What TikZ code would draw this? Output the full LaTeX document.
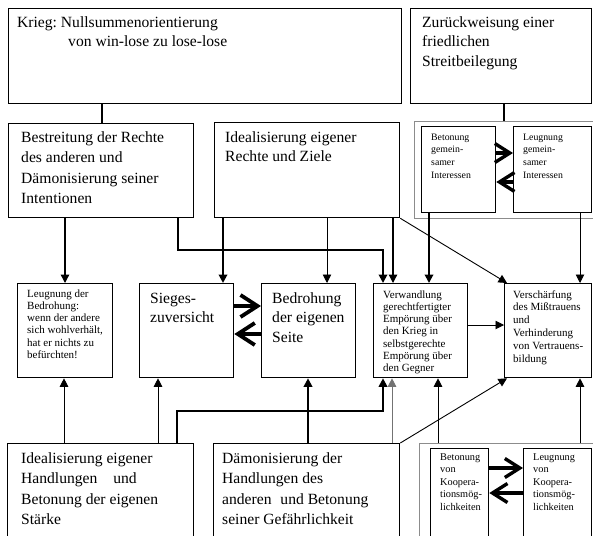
\documentclass[tikz,border=0pt]{standalone}
\usepackage{fontspec}
\setmainfont{Liberation Serif}
\usetikzlibrary{arrows.meta,calc}
\frenchspacing

% type sizes
\newcommand\lgfont{\fontsize{15.6}{20.5}\selectfont}
\newcommand\lgtight{\fontsize{15.6}{19}\selectfont}
\newcommand\smfont{\fontsize{11}{12.3}\selectfont}
\newcommand\tnfont{\fontsize{9.8}{12.7}\selectfont}
\newcommand\kofont{\fontsize{10.3}{12.5}\selectfont}

\tikzset{
  box/.style={draw, line width=1.3pt, anchor=north west, inner sep=0pt, fill=white},
  grp/.style={draw=black!45, line width=0.7pt, anchor=north west, inner sep=0pt},
  lbl/.style={anchor=base west, inner sep=0pt},
  tip/.style={-{Triangle[length=8.5pt,width=8.5pt]}},
  wire/.style={line width=0.9pt},
  mid/.style={line width=1.3pt},
  heavy/.style={line width=1.9pt},
  fat/.style={line width=3.8pt, -{Straight Barb[length=17pt,width=22pt]}},
  fatsm/.style={line width=3.4pt, -{Straight Barb[length=15pt,width=19pt]}},
}

\begin{document}
\begin{tikzpicture}[x=1pt,y=-1pt]
\useasboundingbox (0,0) rectangle (593,535);
\fill[white] (0,0) rectangle (593,535);
\clip (0,0) rectangle (593,535);

% ---- top row
\node[box, minimum width=393, minimum height=95] (krieg) at (8,8) {};
\node[box, minimum width=181, minimum height=95] (zur) at (410,8) {};

% ---- second row
\node[box, minimum width=185, minimum height=94] (bestr) at (8,123) {};
\node[box, minimum width=185, minimum height=95] (idealR) at (214,122) {};
\node[grp, minimum width=190, minimum height=97] (grpT) at (414,121) {};
\node[box, minimum width=74, minimum height=86] (betG) at (421,126) {};
\node[box, minimum width=78, minimum height=86] (leuG) at (513,126) {};

% ---- middle row
\node[box, minimum width=95, minimum height=94] (leugB) at (17,283) {};
\node[box, minimum width=94, minimum height=94] (sieg) at (139,283) {};
\node[box, minimum width=94, minimum height=94] (bedr) at (261,283) {};
\node[box, minimum width=94, minimum height=94] (verw) at (373,283) {};
\node[box, minimum width=87, minimum height=94] (versch) at (504,283) {};

% ---- bottom row
\node[box, minimum width=186, minimum height=120] (idealH) at (7,443) {};
\node[box, minimum width=186, minimum height=120] (daemon) at (213,443) {};
\node[grp, minimum width=190, minimum height=120] (grpB) at (419,443) {};
\node[box, minimum width=58, minimum height=120] (betK) at (430,448) {};
\node[box, minimum width=68, minimum height=120] (leuK) at (523,448) {};

% ---- texts
\node[lbl] (tkrieg) at ($(krieg.north west)+(9,20)$)
  {\parbox[t]{300pt}{\raggedright\lgtight Krieg: Nullsummenorientierung\\\hspace*{51pt}von win-lose zu lose-lose}};
\node[lbl] (tzur) at ($(zur.north west)+(12,20)$)
  {\parbox[t]{170pt}{\raggedright\lgtight Zurückweisung einer\\friedlichen\\Streitbeilegung}};
\node[lbl] (tbestr) at ($(bestr.north west)+(13,19)$)
  {\parbox[t]{175pt}{\raggedright\lgfont Bestreitung der Rechte\\des anderen und\\Dämonisierung seiner\\Intentionen}};
\node[lbl] (tidealR) at ($(idealR.north west)+(11,20)$)
  {\parbox[t]{175pt}{\raggedright\lgtight Idealisierung eigener\\Rechte und Ziele}};
\node[lbl] (tbetG) at ($(betG.north west)+(10,14)$)
  {\parbox[t]{70pt}{\raggedright\tnfont Betonung\\gemein-\\samer\\Interessen}};
\node[lbl] (tleuG) at ($(leuG.north west)+(10,14)$)
  {\parbox[t]{70pt}{\raggedright\tnfont Leugnung\\gemein-\\samer\\Interessen}};
\node[lbl] (tleugB) at ($(leugB.north west)+(10,14)$)
  {\parbox[t]{90pt}{\raggedright\smfont Leugnung der\\Bedrohung:\\wenn der andere\\sich wohlverhält,\\hat er nichts zu\\befürchten!}};
\node[lbl] (tsieg) at ($(sieg.north west)+(11,20)$)
  {\parbox[t]{90pt}{\raggedright\fontsize{15.6}{19.5}\selectfont Sieges-\\zuversicht}};
\node[lbl] (tbedr) at ($(bedr.north west)+(11,20)$)
  {\parbox[t]{90pt}{\raggedright\fontsize{15.6}{19.5}\selectfont Bedrohung\\der eigenen\\Seite}};
\node[lbl] (tverw) at ($(verw.north west)+(10,15)$)
  {\parbox[t]{90pt}{\raggedright\smfont Verwandlung\\gerechtfertigter\\Empörung über\\den Krieg in\\selbstgerechte\\Empörung über\\den Gegner}};
\node[lbl] (tversch) at ($(versch.north west)+(9,15)$)
  {\parbox[t]{85pt}{\raggedright\fontsize{11}{12.8}\selectfont Verschärfung\\des Mißtrauens\\und\\Verhinderung\\von Vertrauens-\\bildung}};
\node[lbl] (tidealH) at ($(idealH.north west)+(14,20)$)
  {\parbox[t]{180pt}{\raggedright\lgfont Idealisierung eigener\\Handlungen\hspace*{12pt} und\\Betonung der eigenen\\Stärke}};
\node[lbl] (tdaemon) at ($(daemon.north west)+(9,20)$)
  {\parbox[t]{180pt}{\raggedright\lgfont Dämonisierung der\\Handlungen des\\anderen\hspace*{5pt} und Betonung\\seiner Gefährlichkeit}};
\node[lbl] (tbetK) at ($(betK.north west)+(10,12)$)
  {\parbox[t]{60pt}{\raggedright\kofont Betonung\\von\\Koopera-\\tionsmög-\\lichkeiten}};
\node[lbl] (tleuK) at ($(leuK.north west)+(10,12)$)
  {\parbox[t]{60pt}{\raggedright\kofont Leugnung\\von\\Koopera-\\tionsmög-\\lichkeiten}};

% ---- connectors from the top row
\coordinate (k1) at ($(krieg.south west)+(94,0)$);
\draw[mid] (k1) -- (k1 |- bestr.north);
\coordinate (z1) at ($(zur.south west)+(94,0)$);
\draw[heavy] (z1) -- (z1 |- grpT.north);

% ---- connectors from the second row
\coordinate (b1) at ($(bestr.south west)+(57,0)$);
\draw[mid,tip] (b1) -- (b1 |- leugB.north);
\coordinate (b2) at ($(bestr.south west)+(170,0)$);
\coordinate (v1) at ($(verw.north west)+(10,0)$);
\draw[heavy,tip] (b2) -- ++(0,32) -| (v1);

\coordinate (r1) at ($(idealR.south west)+(9,0)$);
\draw[heavy,tip] (r1) -- (r1 |- sieg.north);
\coordinate (r2) at ($(idealR.south west)+(113,0)$);
\draw[wire,tip] (r2) -- (r2 |- bedr.north);
\coordinate (r3) at ($(idealR.south west)+(179,0)$);
\draw[mid,tip] (r3) -- (r3 |- verw.north);
\draw[wire,tip] (idealR.south east) -- ($(versch.north west)+(3,0)$);

\coordinate (g1) at ($(betG.south west)+(8,0)$);
\draw[heavy,tip] (g1) -- (g1 |- verw.north);
\coordinate (g2) at ($(leuG.south west)+(67,0)$);
\draw[wire,tip] (g2) -- (g2 |- versch.north);

\draw[fatsm] ($(betG.north east)+(0,27)$) -- ($(leuG.north west)+(0,27)$);
\draw[fatsm] ($(leuG.north west)+(0,56)$) -- ($(betG.north east)+(0,56)$);

% ---- connectors within the middle row
\draw[fat] ($(sieg.north east)+(0,23)$) -- ($(bedr.north west)+(0,23)$);
\draw[fat] ($(bedr.north west)+(0,51)$) -- ($(sieg.north east)+(0,51)$);
\draw[wire,tip] ($(verw.north east)+(0,42)$) -- ($(versch.north west)+(0,42)$);

% ---- connectors from the bottom row
\coordinate (h1) at ($(idealH.north west)+(57,0)$);
\draw[wire,tip] (h1) -- (h1 |- leugB.south);
\coordinate (h2) at ($(idealH.north west)+(151,0)$);
\draw[wire,tip] (h2) -- (h2 |- sieg.south);
\coordinate (h3) at ($(idealH.north west)+(170,0)$);
\coordinate (v2) at ($(verw.south west)+(10,0)$);
\draw[heavy,tip] (h3) -- ++(0,-32) -| (v2);

\coordinate (d1) at ($(daemon.north west)+(95,0)$);
\draw[heavy,tip] (d1) -- (d1 |- bedr.south);
\coordinate (d2) at ($(daemon.north west)+(179,0)$);
\draw[wire,draw=black!55,tip] (d2) -- (d2 |- verw.south);
\draw[wire,tip] (daemon.north east) -- ($(versch.south west)+(3,0)$);

\coordinate (c1) at ($(grpB.north west)+(19,0)$);
\draw[wire,tip] (c1) -- (c1 |- verw.south);
\coordinate (c2) at ($(grpB.north west)+(161,0)$);
\draw[wire,tip] (c2) -- (c2 |- versch.south);

\draw[fatsm] ($(betK.north east)+(0,20)$) -- ($(leuK.north west)+(0,20)$);
\draw[fatsm] ($(leuK.north west)+(0,45)$) -- ($(betK.north east)+(0,45)$);
\end{tikzpicture}
\end{document}
